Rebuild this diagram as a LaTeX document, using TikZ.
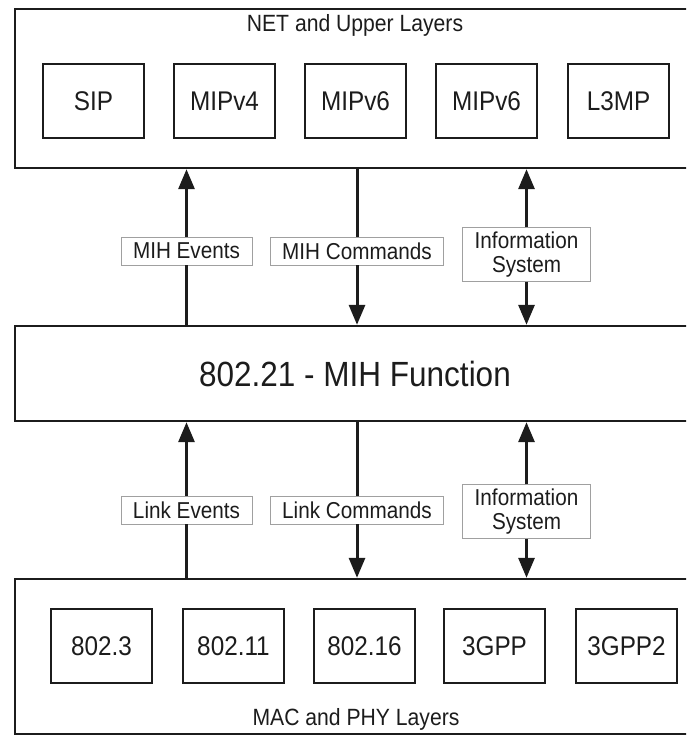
\documentclass[tikz,border=0pt]{standalone}
\usepackage{fontspec}
\setmainfont{Liberation Sans}[FakeStretch=0.9]
\usepackage{tikz}
\usetikzlibrary{arrows.meta}
\definecolor{Ink}{HTML}{1C1C1C}
\definecolor{Frame}{HTML}{A0A0A0}

\begin{document}
\begin{tikzpicture}[x=1pt,y=-1pt,
  layer/.style={draw=Ink,line width=2.4pt,minimum width=685pt,inner sep=0pt,text=Ink},
  proto/.style={draw=Ink,line width=1.4pt,minimum width=101pt,minimum height=74pt,inner sep=0pt,text=Ink,font=\fontsize{27}{32}\selectfont},
  caption/.style={text=Ink,inner sep=0pt,font=\fontsize{23.5}{27}\selectfont},
  tag/.style={draw=Frame,line width=0.8pt,fill=white,inner xsep=12pt,inner ysep=4pt,minimum height=28pt,text=Ink,align=center,font=\fontsize{23}{24}\selectfont},
  flow/.style={draw=Ink,line width=3pt},
  tip/.style={flow,-{Triangle[width=16pt,length=20pt]}}]
\useasboundingbox (0,0) rectangle (686,738);
\clip (0,0) rectangle (686,738);
% NET and upper layers
\node [layer,minimum height=159pt] (net) at (357.5,88.5) {};
\node [caption] (nettitle) at (355,25) {NET and Upper Layers};
\node [proto] (sip) at (93.5,101) {SIP};
\node [proto] (mipfour) at (224.5,101) {MIPv4};
\node [proto] (mipsix) at (355.5,101) {MIPv6};
\node [proto] (mipsixb) at (486.5,101) {MIPv6};
\node [proto] (lthree) at (618.5,101) {L3MP};
% MIH function
\node [layer,minimum height=95pt,font=\fontsize{35}{40}\selectfont] (mid) at (357.5,373.5) {\hspace*{-5pt}802.21 - MIH Function};
% MAC and PHY layers
\node [layer,minimum height=155pt] (mac) at (357.5,656.5) {};
\node [caption] (mactitle) at (356,719) {MAC and PHY Layers};
\node [proto] (ethernet) at (101.5,646) {802.3};
\node [proto] (wifi) at (233.5,646) {802.11};
\node [proto] (wimax) at (364.5,646) {802.16};
\node [proto] (gpp) at (494.5,646) {3GPP};
\node [proto] (gpptwo) at (626.5,646) {3GPP2};
% Upper service labels
\node [tag] (evmih) at (186.5,251) {MIH Events};
\node [tag] (cmdmih) at (357,251) {MIH Commands};
\node [tag] (infomih) at (526.5,254.5) {Information\\System};
% Lower service labels
\node [tag] (evlink) at (186.5,510) {Link Events};
\node [tag] (cmdlink) at (357,510) {Link Commands};
\node [tag] (infolink) at (526.5,511.5) {Information\\System};
% Events go up
\draw [flow] (mid.north -| evmih) -- (evmih);
\draw [tip] (evmih) -- (net.south -| evmih);
\draw [flow] (mac.north -| evlink) -- (evlink);
\draw [tip] (evlink) -- (mid.south -| evlink);
% Commands go down
\draw [flow] (net.south -| cmdmih) -- (cmdmih);
\draw [tip] (cmdmih) -- (mid.north -| cmdmih);
\draw [flow] (mid.south -| cmdlink) -- (cmdlink);
\draw [tip] (cmdlink) -- (mac.north -| cmdlink);
% Information both ways
\draw [tip] (infomih) -- (net.south -| infomih);
\draw [tip] (infomih) -- (mid.north -| infomih);
\draw [tip] (infolink) -- (mid.south -| infolink);
\draw [tip] (infolink) -- (mac.north -| infolink);
\end{tikzpicture}
\end{document}
